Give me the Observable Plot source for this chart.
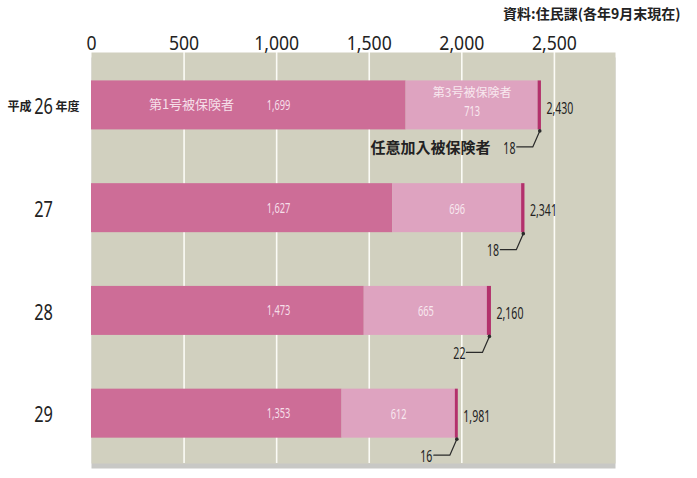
<!DOCTYPE html>
<html>
<head>
<meta charset="utf-8">
<script src="https://cdn.jsdelivr.net/npm/d3@7"></script>
<script src="https://cdn.jsdelivr.net/npm/@observablehq/plot@0.6"></script>
<style>
  html, body { margin: 0; padding: 0; background: #fff; }
</style>
</head>
<body>
<div id="chart"></div>
<script>
// ---- data ----
const years = ["26", "27", "28", "29"];
const no1 = [1699, 1627, 1473, 1353];      // 第1号被保険者
const no3 = [713, 696, 665, 612];          // 第3号被保険者
const nini = [18, 18, 22, 16];             // 任意加入被保険者
const totals = [2430, 2341, 2160, 1981];
const xTicks = [0, 500, 1000, 1500, 2000, 2500];
const seriesNames = ["第1号被保険者", "第3号被保険者", "任意加入被保険者"];
const yearPrefix = "平成";
const yearSuffix = "年度";
const source = "資料:住民課(各年9月末現在)";

// ---- layout ----
const W = 697, H = 478;
const mL = 91, mR = 82, mT = 52, mB = 15;
const xMax = 2830;
const yDom = [-0.515, 3.485];
const plotW = W - mL - mR, plotH = H - mT - mB;
const ux = xMax / plotW;                    // data units per px (x)
const uy = (yDom[1] - yDom[0]) / plotH;     // data units per px (y)
const halfBar = 24.5 * uy;

const num = "'Noto Sans', 'Open Sans', 'DejaVu Sans', sans-serif";
const jp = "'Noto Sans CJK JP', 'Noto Sans', sans-serif";
const fmt = d3.format(",");

const rows = years.map((y, i) => ({i, year: y, no1: no1[i], no3: no3[i], nini: nini[i], total: totals[i]}));
const first = rows.slice(0, 1), rest = rows.slice(1);
const segs = rows.flatMap(r => [
  {i: r.i, x1: 0, x2: r.no1, s: seriesNames[0]},
  {i: r.i, x1: r.no1, x2: r.no1 + r.no3, s: seriesNames[1]},
  {i: r.i, x1: r.no1 + r.no3, x2: r.no1 + r.no3 + r.nini, s: seriesNames[2]}
]);
const leaderPts = rows.flatMap(r => {
  const xe = r.no1 + r.no3 + r.nini / 2;
  return [
    {i: r.i, x: xe, y: r.i + halfBar + 1 * uy},
    {i: r.i, x: xe - 7 * ux, y: r.i + halfBar + 17 * uy},
    {i: r.i, x: xe - 23 * ux, y: r.i + halfBar + 17 * uy}
  ];
});
const leaderDots = leaderPts.filter((d, k) => k % 3 === 0);
const mid3 = d => d.no1 + d.no3 / 2;

const chart = Plot.plot({
  width: W, height: H,
  marginLeft: mL, marginRight: mR, marginTop: mT, marginBottom: mB,
  x: {domain: [0, xMax], axis: null},
  y: {domain: yDom, reverse: true, axis: null},
  color: {domain: seriesNames, range: ["#cd6d97", "#dea3c0", "#b3306c"]},
  style: {fontFamily: num, background: "#fff", overflow: "visible"},
  marks: [
    Plot.frame({fill: "#c8c8c5", dy: 5, stroke: null}),
    Plot.frame({fill: "#d1d0bf", stroke: null}),
    Plot.ruleX(xTicks.filter(d => d > 0), {stroke: "#fbfbf6", strokeWidth: 1.6}),
    Plot.rect(segs, {x1: "x1", x2: "x2", y1: d => d.i - halfBar, y2: d => d.i + halfBar, fill: "s"}),
    // tick labels
    Plot.text(xTicks, {x: d => d, frameAnchor: "top", dy: -17, textAnchor: "middle", text: d => fmt(d), fontSize: 20, fill: "#222", fontFamily: num, ariaDescription: "cond-0.88"}),
    // source
    Plot.text([source], {frameAnchor: "top-right", dx: 65, dy: -43, textAnchor: "end", fontSize: 14, fontWeight: "bold", fill: "#222", fontFamily: jp}),
    // year labels
    Plot.text(rows, {y: "i", frameAnchor: "left", dx: -48, dy: 2, textAnchor: "middle", text: "year", fontSize: 21, fill: "#222", fontFamily: num, ariaDescription: "cond-0.78"}),
    Plot.text(first, {y: "i", frameAnchor: "left", dx: -60, dy: 2, textAnchor: "end", text: () => yearPrefix, fontSize: 12, fontWeight: "bold", fill: "#222", fontFamily: jp}),
    Plot.text(first, {y: "i", frameAnchor: "left", dx: -36, dy: 2, textAnchor: "start", text: () => yearSuffix, fontSize: 12, fontWeight: "bold", fill: "#222", fontFamily: jp}),
    // in-bar labels: 第1号
    Plot.text(first, {y: "i", frameAnchor: "left", dx: 100, dy: -1, textAnchor: "middle", text: () => seriesNames[0], fontSize: 13, fill: "#f6dfe9", fontFamily: jp}),
    Plot.text(rows, {y: "i", frameAnchor: "left", dx: 187, dy: 0, textAnchor: "middle", text: d => fmt(d.no1), fontSize: 14, fill: "#f6dfe9", fontFamily: num, ariaDescription: "cond-0.66"}),
    // in-bar labels: 第3号
    Plot.text(first, {x: mid3, y: "i", dy: -12, textAnchor: "middle", text: () => seriesNames[1], fontSize: 12, fill: "#f8e8ef", fontFamily: jp}),
    Plot.text(first, {x: mid3, y: "i", dy: 6, textAnchor: "middle", text: d => fmt(d.no3), fontSize: 14, fill: "#f8e8ef", fontFamily: num, ariaDescription: "cond-0.66"}),
    Plot.text(rest, {x: mid3, y: "i", dy: 1, textAnchor: "middle", text: d => fmt(d.no3), fontSize: 14, fill: "#f8e8ef", fontFamily: num, ariaDescription: "cond-0.66"}),
    // totals
    Plot.text(rows, {x: "total", y: "i", dx: 5, dy: 3, textAnchor: "start", text: d => fmt(d.total), fontSize: 16, fill: "#222", fontFamily: num, ariaDescription: "cond-0.66"}),
    // leaders for 任意加入被保険者
    Plot.line(leaderPts, {x: "x", y: "y", z: "i", stroke: "#2a2a2a", strokeWidth: 1.2}),
    Plot.dot(leaderDots, {x: "x", y: "y", r: 1.8, fill: "#2a2a2a", stroke: null}),
    Plot.text(rows, {x: "total", y: "i", dx: -26, dy: 43, textAnchor: "end", text: d => fmt(d.nini), fontSize: 16, fill: "#222", fontFamily: num, ariaDescription: "cond-0.66"}),
    Plot.text(first, {x: "total", y: "i", dx: -51, dy: 43, textAnchor: "end", text: () => seriesNames[2], fontSize: 15, fontWeight: "bold", fill: "#222", fontFamily: jp})
  ]
});
// condense numeric labels horizontally (the original uses a condensed typeface)
chart.querySelectorAll("g[aria-description^='cond-']").forEach(g => {
  const f = +g.getAttribute("aria-description").split("-")[1];
  g.querySelectorAll("text").forEach(t => {
    const tr = t.getAttribute("transform") || "";
    t.setAttribute("transform", `${tr} scale(${f},1)`);
  });
});
document.getElementById("chart").append(chart);
</script>
</body>
</html>
